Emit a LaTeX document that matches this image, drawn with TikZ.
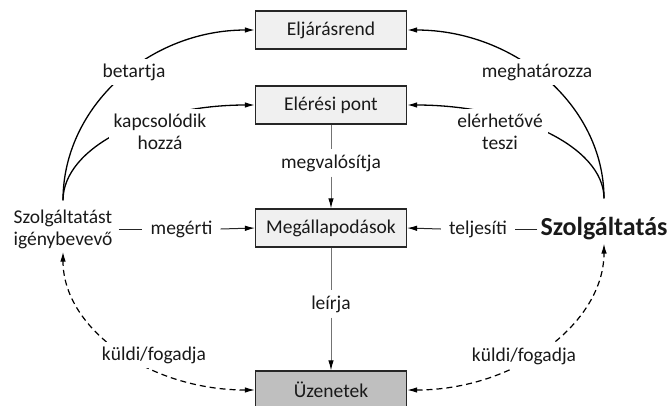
\documentclass[tikz,border=0pt]{standalone}
\usepackage{fontspec}
\setmainfont{Carlito}
\usetikzlibrary{arrows.meta}
\begin{document}
\begin{tikzpicture}[x=1pt,y=-1pt,
  every node/.style={font=\fontsize{19.5}{22}\selectfont, text=black!90},
  box/.style={draw=black!85, line width=1.2pt, fill=black!6, minimum width=151pt, minimum height=38pt, inner sep=0pt},
  darkbox/.style={box, fill=black!25},
  lbl/.style={fill=white, inner sep=5pt, align=center},
  vlbl/.style={inner sep=5pt},
  hlbl/.style={inner xsep=8pt, inner ysep=3pt},
  tip/.style={-{Latex[length=10pt,width=5.5pt,color=black]}},
  bothtips/.style={{Latex[length=10pt,width=5.5pt,color=black]}-{Latex[length=10pt,width=5.5pt,color=black]}},
  curve/.style={line width=1.3pt, black},
  vline/.style={line width=1pt, black!55},
  hline/.style={line width=1pt, black!85},
  dashedconn/.style={line width=1.2pt, black, dash pattern=on 6pt off 4pt}
]
\useasboundingbox (0,0) rectangle (671,405);

\node[box] (elj) at (331,30) {Eljárásrend};
\node[box] (elp) at (331,105) {Elérési pont};
\node[box] (meg) at (331,228) {Megállapodások};
\node[darkbox] (uz) at (331,390) {Üzenetek};

\node[inner xsep=6pt, inner ysep=3pt, align=left] (sz) at (63,229) {Szolgáltatást\\igénybevevő};
\node[font=\fontsize{26}{30}\selectfont\bfseries, inner sep=3pt] (szo) at (604,229) {Szolgáltatás};

\node[vlbl] (megv) at (331,163) {megvalósítja};
\node[vlbl] (leir) at (331,304) {leírja};
\node[hlbl] (megerti) at (181.5,229) {megérti};
\node[hlbl] (telj) at (478,229) {teljesíti};

% vertical connectors
\draw[vline] (elp) -- (megv);
\draw[vline, tip] (megv) -- (meg);
\draw[vline] (meg) -- (leir);
\draw[vline, tip] (leir) -- (uz);

% horizontal connectors
\draw[hline] (sz.east |- megerti.west) -- (megerti.west);
\draw[hline, tip] (megerti.east) -- (meg.west);
\draw[hline] (szo.west |- telj.east) -- (telj.east);
\draw[hline, tip] (telj.west) -- (meg.east);

% curved connectors
\draw[curve, tip] ([yshift=6pt]sz.north) .. controls +(0,-94) and +(-106,0) .. (elj.west);
\draw[curve, tip] ([yshift=6pt]sz.north) .. controls +(0,-53) and +(-106,0) .. (elp.west);
\draw[curve, tip] ([yshift=16pt]szo.north) .. controls +(0,-93) and +(108,0) .. (elj.east);
\draw[curve, tip] ([yshift=16pt]szo.north) .. controls +(0,-52) and +(108,0) .. (elp.east);
\draw[dashedconn, bothtips] (uz.west) .. controls +(-106,0) and +(0,77) .. (sz.south);
\draw[dashedconn, bothtips] (uz.east) .. controls +(108,0) and +(0,80) .. (szo.south);

% labels on curves
\node[lbl] (bet) at (134,72) {betartja};
\node[lbl] (kap) at (160,132) {kapcsolódik\\hozzá};
\node[lbl] (meghat) at (537,72) {meghatározza};
\node[lbl] (elerh) at (500,132) {elérhetővé\\teszi};
\node[lbl] (kf1) at (154,355) {küldi/fogadja};
\node[lbl] (kf2) at (524,356) {küldi/fogadja};
\end{tikzpicture}
\end{document}
